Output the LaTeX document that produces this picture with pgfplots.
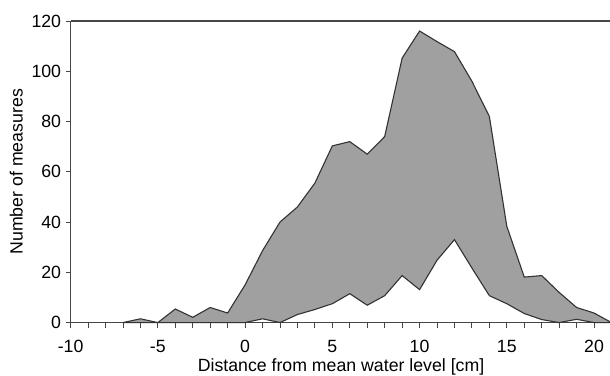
\documentclass[border=0pt]{standalone}
\usepackage{fontspec}
\setmainfont{Liberation Sans}
\usepackage{pgfplots}
\pgfplotsset{compat=1.18}
\usepgfplotslibrary{fillbetween}
\definecolor{areagray}{RGB}{160,160,160}
\definecolor{linegray}{RGB}{50,50,50}
\definecolor{axgray}{RGB}{70,70,70}
\begin{document}
\begin{tikzpicture}
\begin{axis}[name=ax, scale only axis, width=541.6bp, height=302bp,
  xmin=-10, xmax=21, ymin=0, ymax=120,
  axis lines=left, axis line style={-, draw=axgray, line width=1.1bp},
  xtick={-10,-5,...,20}, xticklabels={-10,-5,0,5,10,15,20},
  minor x tick num=4,
  ytick={0,20,...,120}, yticklabels={0,20,40,60,80,100,120},
  tick align=outside, major tick length=5bp, minor tick length=5bp,
  tick style={draw=axgray, line width=0.9bp},
  font=\fontsize{17.8}{21}\selectfont,
  xticklabel style={yshift=-9bp},
  yticklabel style={xshift=-1bp},
  xlabel={Distance from mean water level [cm]},
  xlabel style={yshift=1bp},
  ylabel={Number of measures},
  ylabel style={yshift=2bp},
  clip=false,
]
\addplot[name path=upper, linegray, line width=1.1bp] coordinates {
(-7,0) (-6,1.5) (-5,0) (-4,5.4) (-3,2.1) (-2,6) (-1,3.8) (0,15) (1,28.6) (2,40) (3,46) (4,55.5) (5,70.3) (6,72) (7,67) (8,74) (9,105.2) (10,116) (11,111.8) (12,107.8) (13,96) (14,82) (15,38.3) (16,18.1) (17,18.7) (18,12) (19,6) (20,3.8) (21,0)};
\addplot[name path=lower, linegray, line width=1.1bp] coordinates {
(-7,0) (-6,0) (-5,0) (-4,0) (-3,0) (-2,0) (-1,0) (0,0) (1,1.5) (2,0) (3,3.2) (4,5.2) (5,7.5) (6,11.5) (7,6.9) (8,10.7) (9,18.7) (10,13.1) (11,24.8) (12,33) (13,21.7) (14,10.7) (15,7.5) (16,3.6) (17,1.2) (18,0) (19,1.3) (20,0) (21,0)};
\addplot[areagray, draw=none] fill between[of=upper and lower];
\end{axis}
\draw[axgray, line width=1.1bp] (ax.north west) -- (ax.north east);
\pgfresetboundingbox
\path[use as bounding box] ([xshift=-70.7bp,yshift=-53bp]ax.south west) rectangle ([xshift=-1.5bp,yshift=21bp]ax.north east);
\end{tikzpicture}
\end{document}
